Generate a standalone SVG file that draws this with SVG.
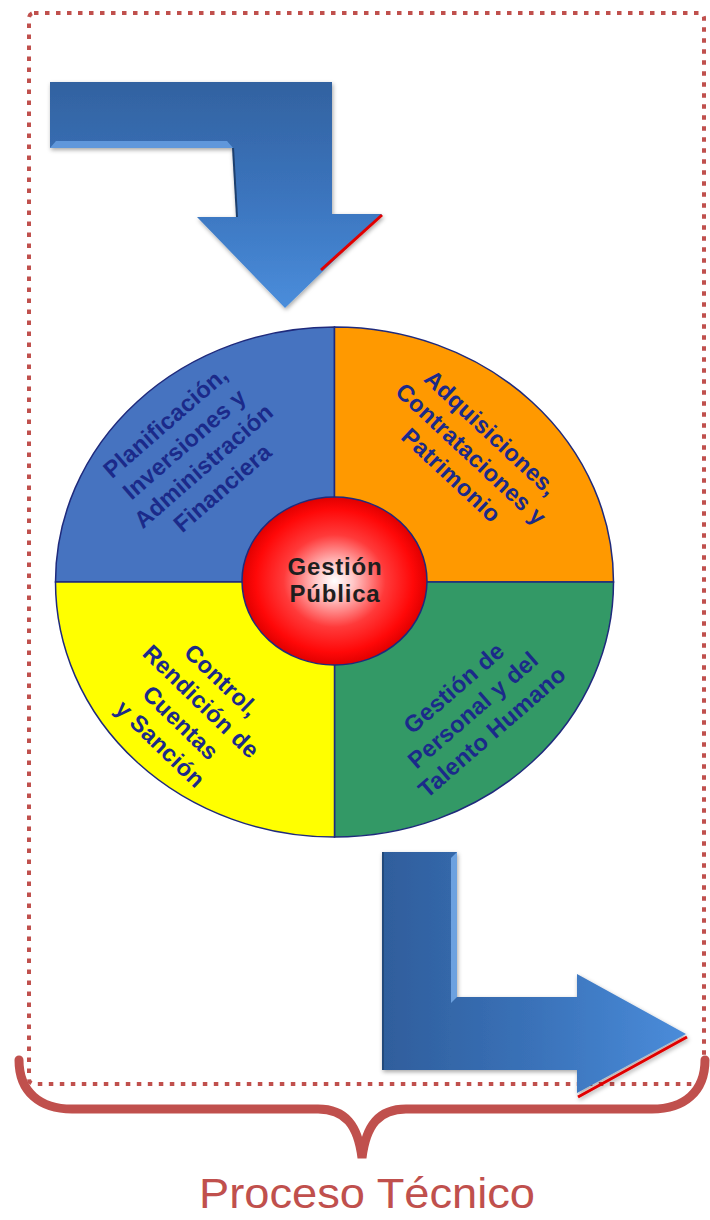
<svg xmlns="http://www.w3.org/2000/svg" width="710" height="1220" viewBox="0 0 710 1220">
<style>
.q{stroke:#1f2a7c;stroke-width:1.5}
.qt{font-family:"Liberation Sans",Arial,sans-serif;font-weight:bold;font-size:23.5px;fill:#1b2a8a;text-anchor:middle;letter-spacing:0.3px}
.ct{font-family:"Liberation Sans",Arial,sans-serif;font-weight:bold;font-size:24px;fill:#1e1e1e;text-anchor:middle;letter-spacing:0.8px}
.red{stroke:#c0504d;fill:none}
</style>
<defs>
<linearGradient id="gIn" gradientUnits="userSpaceOnUse" x1="0" y1="82" x2="0" y2="308">
<stop offset="0" stop-color="#3262a0"/><stop offset="0.5" stop-color="#3b74bd"/><stop offset="1" stop-color="#4a8ddb"/>
</linearGradient>
<linearGradient id="gOut" gradientUnits="userSpaceOnUse" x1="383" y1="0" x2="686" y2="0">
<stop offset="0" stop-color="#2f5e9c"/><stop offset="0.5" stop-color="#3a72b9"/><stop offset="1" stop-color="#4a8cda"/>
</linearGradient>
<radialGradient id="gC" cx="0.5" cy="0.5" r="0.5">
<stop offset="0" stop-color="#ffffff"/><stop offset="0.2" stop-color="#ffc8c8"/><stop offset="0.55" stop-color="#ff3a3a"/><stop offset="0.85" stop-color="#ff0808"/><stop offset="1" stop-color="#e00000"/>
</radialGradient>
<filter id="sh" x="-10%" y="-10%" width="130%" height="130%">
<feDropShadow dx="1" dy="2" stdDeviation="2" flood-color="#000" flood-opacity="0.35"/>
</filter>
</defs>

<g id="frame">
<rect x="29" y="13" width="675" height="1071" rx="5" class="red" stroke-width="4" stroke-dasharray="4.5 6.5"/>
</g>

<g id="connectors">
<g id="arrow-in" filter="url(#sh)">
<polygon points="50,82 332,82 332,214 382,214 285,308 197,217 237,217 233,148 50,148" fill="url(#gIn)"/>
<polygon points="50,148 56,141 227,141 233,148" fill="#6aa2e6" opacity="0.8"/>
<line x1="233" y1="148" x2="237" y2="217" stroke="#1f3f6e" stroke-width="2"/>
<line x1="382" y1="215" x2="321" y2="270" stroke="#e00000" stroke-width="3"/>
</g>
<g id="arrow-out" filter="url(#sh)">
<polygon points="383,852 457,852 457,997 577,997 577,974 686,1034 577,1093 577,1070 383,1070" fill="url(#gOut)"/>
<polygon points="451,858 457,852 457,997 451,1003" fill="#7ab0ee" opacity="0.8"/>
<line x1="383" y1="852" x2="383" y2="1070" stroke="#24487a" stroke-width="2"/>
<line x1="687" y1="1037" x2="578" y2="1097" stroke="#e00000" stroke-width="3"/>
</g>
</g>

<g id="wheel">
<g id="q-planificacion">
<path class="q" d="M334.5,582 L55.5,582 A279,255 0 0 1 334.5,327 Z" fill="#4673c0"/>
<g transform="translate(194,455) rotate(-41)">
<text class="qt" x="0" y="-35.5">Planificación,</text>
<text class="qt" x="0" y="-6.5">Inversiones y</text>
<text class="qt" x="0" y="22.5">Administración</text>
<text class="qt" x="0" y="51.5">Financiera</text>
</g>
</g>
<g id="q-adquisiciones">
<path class="q" d="M334.5,582 L334.5,327 A279,255 0 0 1 613.5,582 Z" fill="#ff9900"/>
<g transform="translate(471,454) rotate(43)">
<text class="qt" x="0" y="-21">Adquisiciones,</text>
<text class="qt" x="0" y="8">Contrataciones y</text>
<text class="qt" x="0" y="37">Patrimonio</text>
</g>
</g>
<g id="q-personal">
<path class="q" d="M334.5,582 L613.5,582 A279,255 0 0 1 334.5,837 Z" fill="#339966"/>
<g transform="translate(473,710) rotate(-41)">
<text class="qt" x="0" y="-21">Gestión de</text>
<text class="qt" x="0" y="8">Personal y del</text>
<text class="qt" x="0" y="37">Talento Humano</text>
</g>
</g>
<g id="q-control">
<path class="q" d="M334.5,582 L334.5,837 A279,255 0 0 1 55.5,582 Z" fill="#ffff00"/>
<g transform="translate(191,712) rotate(44)">
<text class="qt" x="0" y="-36">Control,</text>
<text class="qt" x="0" y="-6.5">Rendición de</text>
<text class="qt" x="0" y="23">Cuentas</text>
<text class="qt" x="0" y="52.5">y Sanción</text>
</g>
</g>
<g id="center">
<ellipse cx="334.5" cy="581" rx="92.5" ry="84" fill="url(#gC)" stroke="#1f2a7c" stroke-width="1.5"/>
<text class="ct" x="335" y="575">Gestión</text>
<text class="ct" x="335" y="602">Pública</text>
</g>
</g>

<g id="brace">
<path class="red" stroke-width="9" stroke-linecap="round" d="M19,1060 C19,1092 40,1109 72,1109 L318,1109 C345,1109 358,1125 362,1158 C366,1125 379,1109 406,1109 L652,1109 C684,1109 705,1092 705,1060"/>
<text x="367" y="1208" font-family="'Liberation Sans',Arial,sans-serif" font-size="42" fill="#c0504d" text-anchor="middle" textLength="336" lengthAdjust="spacingAndGlyphs">Proceso Técnico</text>
</g>
</svg>
